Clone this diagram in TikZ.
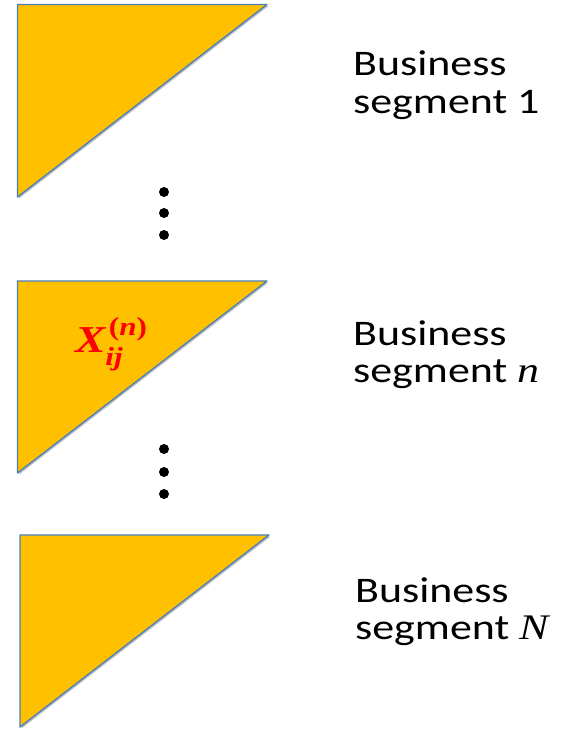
\documentclass[tikz,border=0pt]{standalone}
\usepackage{fontspec}
\setmainfont{Carlito}
\newfontfamily\mathlike{Liberation Serif}
\usetikzlibrary{shadows}
\definecolor{trifill}{HTML}{FFC000}
\definecolor{triedge}{RGB}{74,126,187}
\definecolor{lblred}{HTML}{FF0000}
\newcommand{\widetxt}[1]{\scalebox{1.22}[1]{#1}}
\newcommand{\mvar}[1]{{\mathlike\itshape #1}}
\newcommand{\scrtxt}[1]{{\fontsize{26}{28}\selectfont\mathlike\bfseries #1}}
\begin{document}
\begin{tikzpicture}[x=1pt,y=-1pt,
  tri/.style={fill=trifill, draw=triedge, line width=1.3pt, line join=round,
    drop shadow={shadow xshift=1.5pt, shadow yshift=-1.5pt, opacity=0.25, fill=black}},
  vdot/.style={fill=black, draw=none},
  seglabel/.style={anchor=base west, inner sep=0pt, font=\fontsize{36}{37}\selectfont},
  xlabel/.style={anchor=base west, inner sep=0pt, text=lblred, font=\fontsize{38}{40}\selectfont\mathlike\bfseries}]
\useasboundingbox (0,0) rectangle (577,729);
% triangles
\coordinate (t1a) at (17.5,4.5); \coordinate (t1b) at (267,4.5); \coordinate (t1c) at (17.5,197);
\coordinate (t2a) at (17.5,281); \coordinate (t2b) at (267,281); \coordinate (t2c) at (17.5,473);
\coordinate (t3a) at (20,535); \coordinate (t3b) at (269,535); \coordinate (t3c) at (20,727);
\draw[tri] (t1a) -- (t1b) -- (t1c) -- cycle;
\draw[tri] (t2a) -- (t2b) -- (t2c) -- cycle;
\draw[tri] (t3a) -- (t3b) -- (t3c) -- cycle;
% dots
\foreach \y in {192,213,235,449,472,494} \fill[vdot] (164,\y) circle (5);
% labels
\node[xlabel] (xij) at (75,352) {\scalebox{1.2}[1]{\textit{X}\rlap{\kern2pt\raisebox{17pt}{\scrtxt{(\textit{n})}}}\kern-1pt\raisebox{-13pt}{\scrtxt{\textit{ij}}}}};
\node[seglabel] (l1a) at (353,75.7) {\widetxt{Business}};
\node[seglabel] (l1b) at (353,113.3) {\widetxt{segment 1}};
\node[seglabel] (l2a) at (353,345.7) {\widetxt{Business}};
\node[seglabel] (l2b) at (353,382.5) {\widetxt{segment \mvar{n}}};
\node[seglabel] (l3a) at (355,602) {\widetxt{Business}};
\node[seglabel] (l3b) at (355,639) {\widetxt{segment \mvar{N}}};
\end{tikzpicture}
\end{document}
